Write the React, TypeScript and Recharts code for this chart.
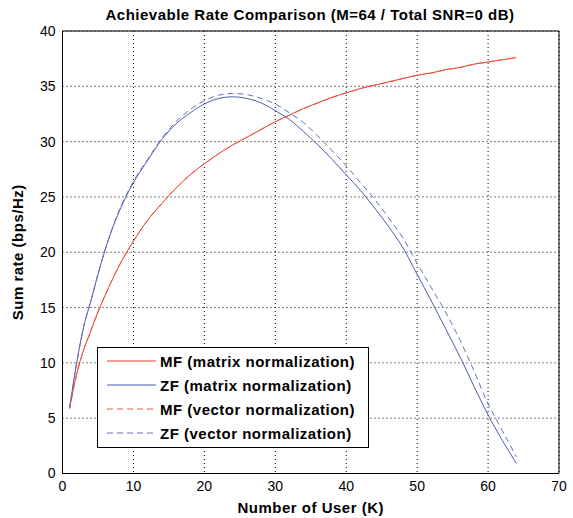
import React from 'react'
import { LineChart, Line, XAxis, YAxis, CartesianGrid, ReferenceLine } from 'recharts'

// number of users K
const users = [1, 2, 3, 4, 5, 6, 7, 8, 10, 12, 14, 16, 18, 20, 22, 24, 26, 28, 30, 32, 34, 36, 38, 40, 42, 44, 46, 48, 50, 52, 54, 56, 58, 60, 62, 64]

// sum rate (bps/Hz)
const mfMatrix = [5.9, 9.0, 11.2, 12.9, 14.6, 16.1, 17.5, 18.8, 21.0, 22.9, 24.4, 25.8, 27.0, 28.0, 28.9, 29.7, 30.4, 31.1, 31.8, 32.4, 33.0, 33.5, 34.0, 34.4, 34.8, 35.1, 35.4, 35.7, 36.0, 36.2, 36.5, 36.7, 37.0, 37.2, 37.4, 37.6]
const zfMatrix = [5.9, 10.0, 13.3, 15.6, 18.0, 20.2, 22.1, 23.7, 26.3, 28.3, 30.2, 31.6, 32.6, 33.4, 33.9, 34.05, 33.9, 33.5, 32.8, 32.0, 30.9, 29.7, 28.4, 27.0, 25.6, 24.0, 22.3, 20.4, 18.0, 15.6, 13.1, 10.6, 7.9, 5.3, 3.0, 0.9]
const mfVector = [5.9, 9.0, 11.2, 12.9, 14.6, 16.1, 17.5, 18.8, 21.0, 22.9, 24.4, 25.8, 27.0, 28.0, 28.9, 29.7, 30.4, 31.1, 31.8, 32.4, 33.0, 33.5, 34.0, 34.4, 34.8, 35.1, 35.4, 35.7, 36.0, 36.2, 36.5, 36.7, 37.0, 37.2, 37.4, 37.6]
const zfVector = [5.9, 10.0, 13.3, 15.6, 18.0, 20.2, 22.1, 23.8, 26.4, 28.4, 30.3, 31.8, 32.9, 33.7, 34.2, 34.35, 34.25, 33.9, 33.4, 32.6, 31.7, 30.5, 29.2, 27.8, 26.3, 24.8, 23.1, 21.3, 19.0, 16.8, 14.6, 12.1, 9.3, 6.3, 3.9, 1.5]

const xTicks = [0, 10, 20, 30, 40, 50, 60, 70]
const yTicks = [0, 5, 10, 15, 20, 25, 30, 35, 40]

const series = [
  { key: 'mfMatrix', name: 'MF (matrix normalization)', color: '#e5372b', dash: undefined },
  { key: 'zfMatrix', name: 'ZF (matrix normalization)', color: '#4a5cb5', dash: undefined },
  { key: 'mfVector', name: 'MF (vector normalization)', color: '#ee5a3c', dash: '6 4' },
  { key: 'zfVector', name: 'ZF (vector normalization)', color: '#6670b8', dash: '6 4' },
]

const data = users.map((k, i) => ({
  k,
  mfMatrix: mfMatrix[i],
  zfMatrix: zfMatrix[i],
  mfVector: mfVector[i],
  zfVector: zfVector[i],
}))

const FONT = '"Liberation Sans", Arial, Helvetica, sans-serif'

function LegendBox() {
  return (
    <div
      style={{
        position: 'absolute',
        left: 97,
        top: 347,
        width: 270,
        border: '1px solid #000',
        background: '#fff',
        padding: '1px 0 2px 0',
        fontFamily: FONT,
      }}
    >
      {series.map(s => (
        <div key={s.key} style={{ display: 'flex', alignItems: 'center', height: 24 }}>
          <svg width={62} height={10}>
            <line x1={9} y1={5} x2={58} y2={5} stroke={s.color} strokeWidth={1} strokeDasharray={s.dash} />
          </svg>
          <span style={{ fontSize: 15, fontWeight: 700, letterSpacing: 0.5, color: '#000', whiteSpace: 'nowrap' }}>
            {s.name}
          </span>
        </div>
      ))}
    </div>
  )
}

export default function App() {
  const tickStyle = { fontSize: 14, fill: '#000', fontFamily: FONT }
  return (
    <div style={{ position: 'absolute', left: 0, top: 0, width: 573, height: 518, background: '#fff' }}>
      <div
        style={{
          position: 'absolute',
          left: 0,
          width: 620,
          top: 6,
          textAlign: 'center',
          fontFamily: FONT,
          fontWeight: 700,
          fontSize: 15,
          letterSpacing: 0.5,
          color: '#000',
        }}
      >
        Achievable Rate Comparison (M=64 / Total SNR=0 dB)
      </div>
      <LineChart width={573} height={518} data={data} margin={{ top: 31, right: 14, left: 0, bottom: 0 }}>
        <CartesianGrid stroke="#000" strokeDasharray="1 3" horizontalValues={yTicks} verticalValues={xTicks} />
        <XAxis
          type="number"
          dataKey="k"
          domain={[0, 70]}
          ticks={xTicks}
          height={44.5}
          stroke="#000"
          tickSize={0}
          tickMargin={8}
          tick={tickStyle}
          label={{ value: 'Number of User (K)', position: 'insideBottom', offset: 0, dy: -5, style: { fontSize: 15, fontWeight: 700, letterSpacing: 0.5, fill: '#000', fontFamily: FONT } }}
        />
        <YAxis
          type="number"
          domain={[0, 40]}
          ticks={yTicks}
          width={62.5}
          stroke="#000"
          tickSize={0}
          tickMargin={7}
          tick={tickStyle}
          label={{ value: 'Sum rate (bps/Hz)', angle: -90, position: 'insideLeft', offset: 18, style: { textAnchor: 'middle', fontSize: 15, fontWeight: 700, letterSpacing: 0.5, fill: '#000', fontFamily: FONT } }}
        />
        <ReferenceLine y={40} stroke="#000" />
        <ReferenceLine x={70} stroke="#000" />
        {series.map(s => (
          <Line
            key={s.key}
            type="monotone"
            dataKey={s.key}
            name={s.name}
            stroke={s.color}
            strokeWidth={1}
            strokeDasharray={s.dash}
            dot={false}
            isAnimationActive={false}
          />
        ))}
      </LineChart>
      <LegendBox />
    </div>
  )
}
